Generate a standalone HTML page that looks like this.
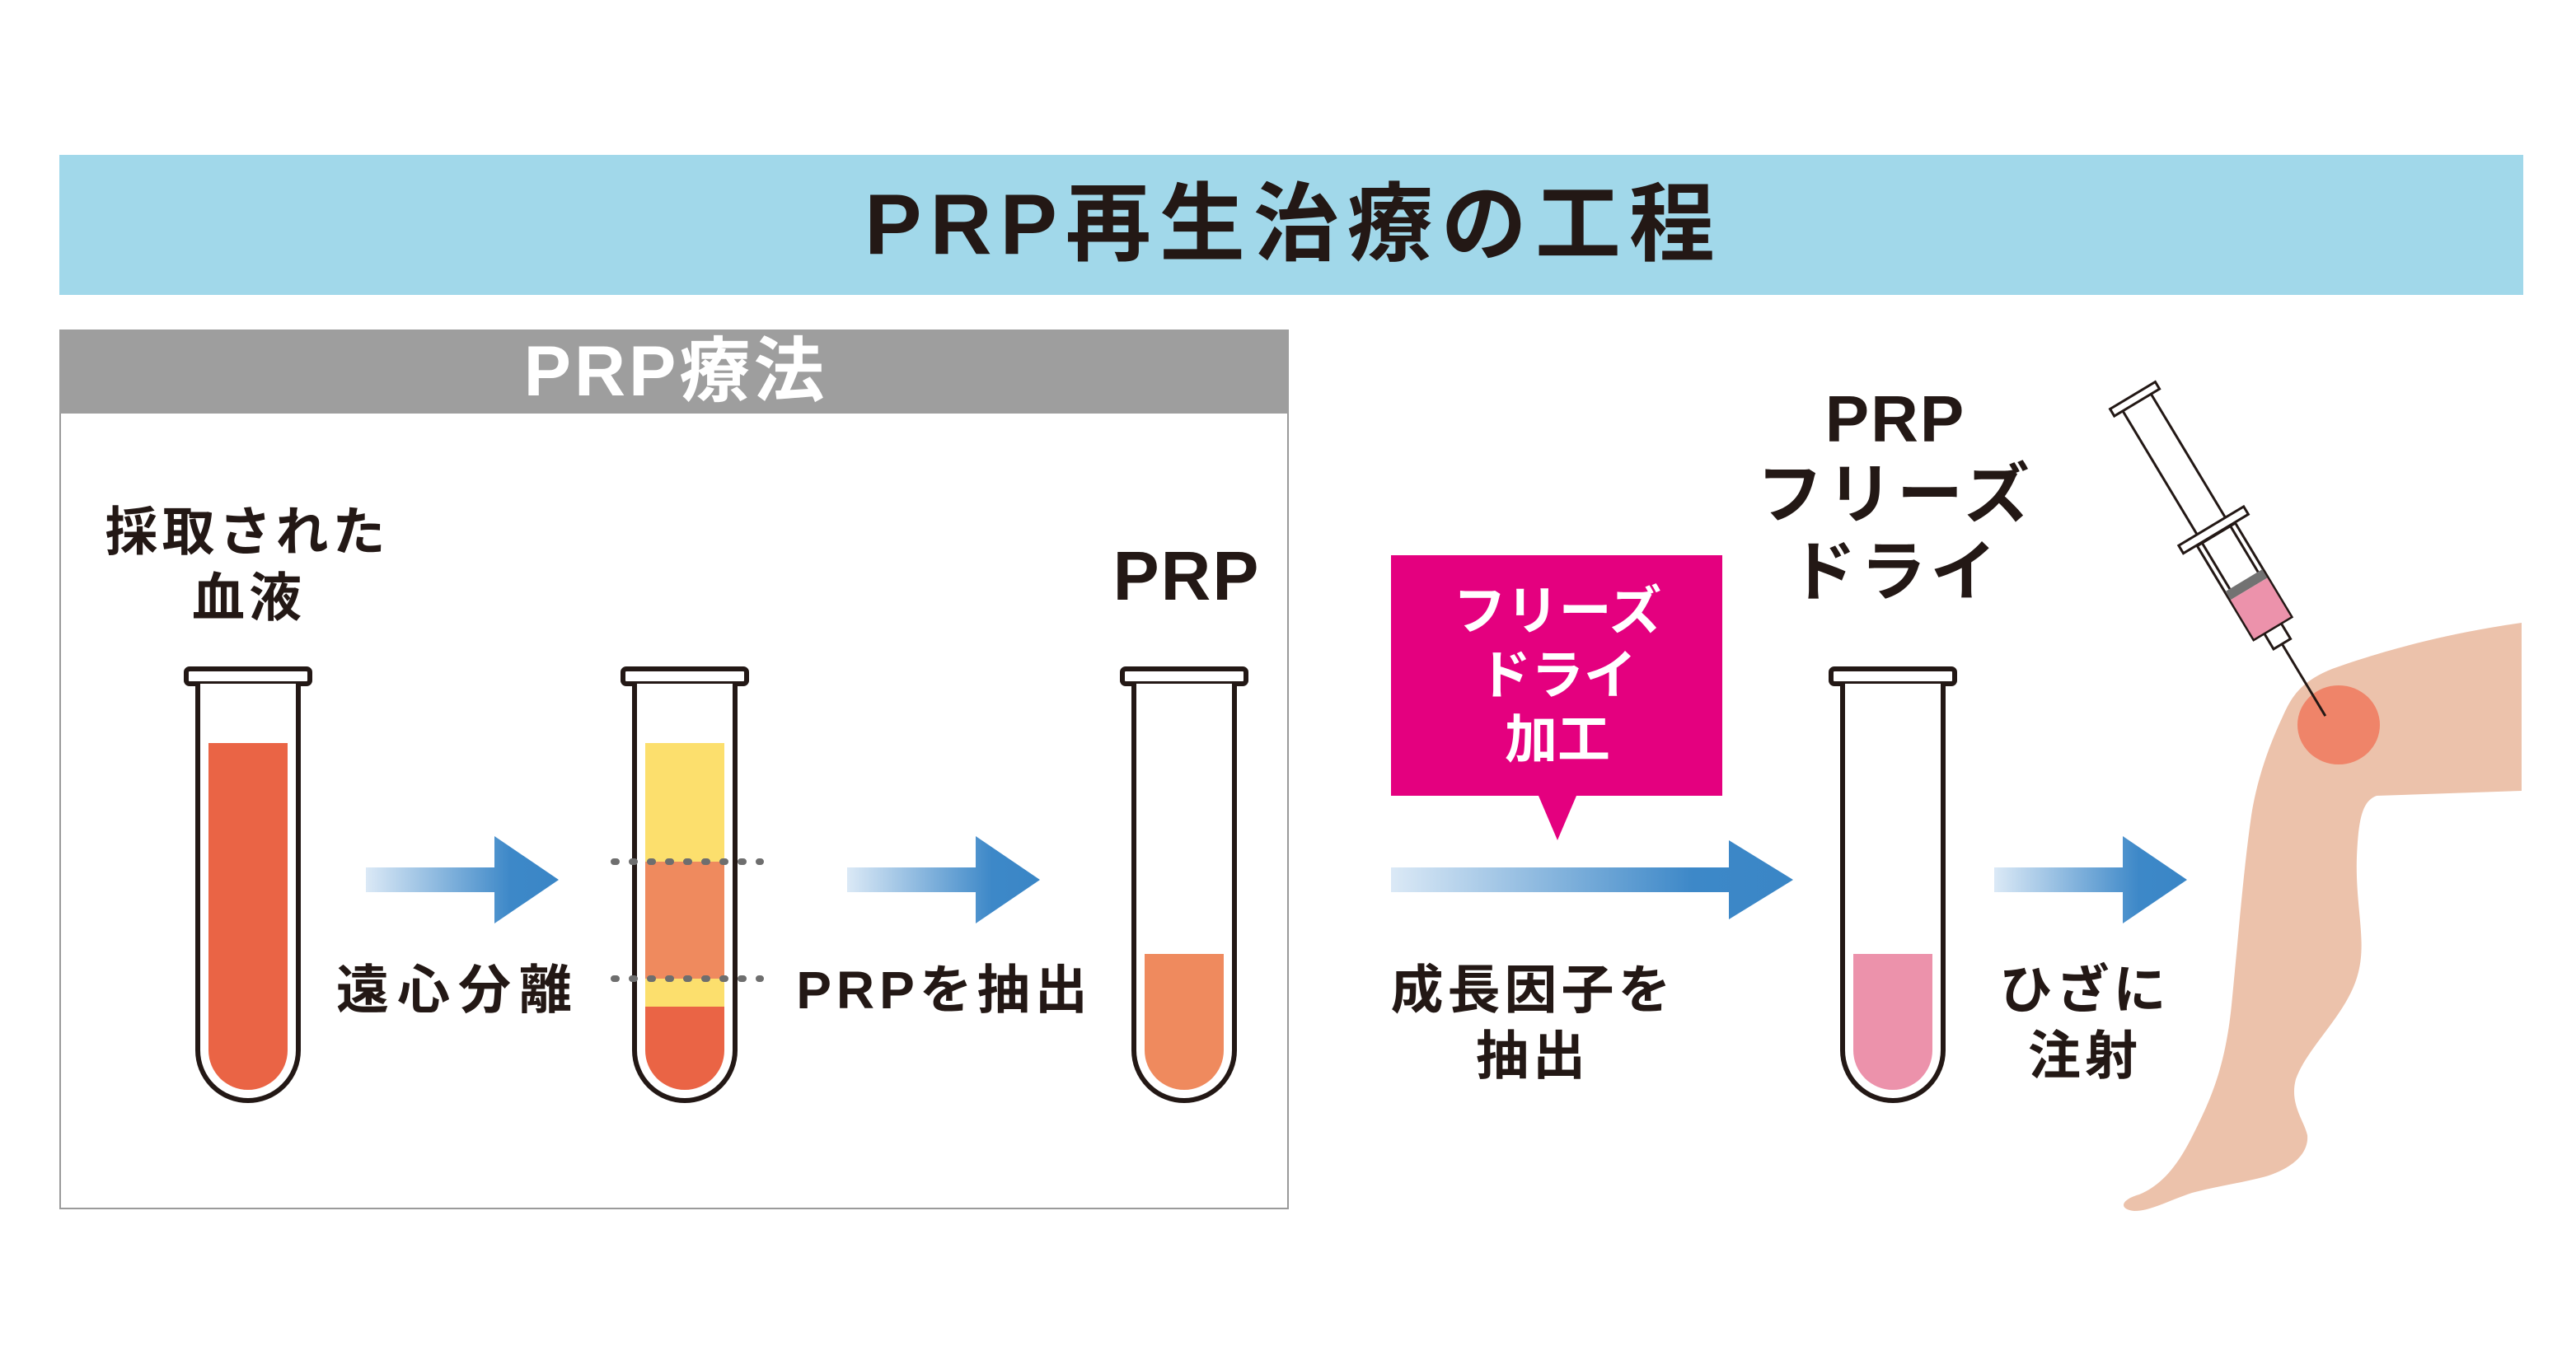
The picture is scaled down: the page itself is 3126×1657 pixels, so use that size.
<!DOCTYPE html>
<html><head><meta charset="utf-8"><style>
html,body{margin:0;padding:0;background:#fff}
svg{display:block}
text{font-family:"Liberation Sans","Noto Sans CJK JP",sans-serif;font-weight:bold}
</style></head><body>
<svg width="3126" height="1657" viewBox="0 0 3126 1657" xmlns="http://www.w3.org/2000/svg">
<defs>
<linearGradient id="ag" x1="0" x2="1" y1="0" y2="0">
<stop offset="0" stop-color="#dbe9f6"/><stop offset="0.75" stop-color="#3d88c8"/><stop offset="1" stop-color="#3a86c6"/>
</linearGradient>
<g id="tube">
<rect x="-75" y="812" width="150" height="18" rx="4" fill="#fff" stroke="#231815" stroke-width="6"/>
<path d="M-61 830 V1275 A61 61 0 0 0 61 1275 V830" fill="#fff" stroke="#231815" stroke-width="6"/>
</g>
</defs>
<rect x="72" y="188" width="2990" height="170" fill="#a1d8ea"/>
<text x="1570" y="308" font-size="104" letter-spacing="10" text-anchor="middle" fill="#231815">PRP再生治療の工程</text>

<rect x="73" y="401" width="1490" height="1066" fill="#fff" stroke="#9a9a9a" stroke-width="2"/>
<rect x="72" y="400" width="1492" height="102" fill="#9e9e9e"/>
<text x="820" y="480" font-size="86" letter-spacing="4" text-anchor="middle" fill="#fff">PRP療法</text>

<g transform="translate(301,0)"><use href="#tube"/>
<path d="M-48 902 V1275 A48 48 0 0 0 48 1275 V902Z" fill="#ea6445"/></g>
<g transform="translate(831,0)"><use href="#tube"/>
<rect x="-48" y="902" width="96" height="144" fill="#fcdf6d"/>
<rect x="-48" y="1046" width="96" height="142" fill="#ef8a5e"/>
<rect x="-48" y="1188" width="96" height="34" fill="#fcdf6d"/>
<path d="M-48 1222 V1275 A48 48 0 0 0 48 1275 V1222Z" fill="#ea6445"/>
<line x1="-86" y1="1046" x2="92" y2="1046" stroke="#6e6e6e" stroke-width="8" stroke-linecap="round" stroke-dasharray="3 19"/>
<line x1="-86" y1="1188" x2="92" y2="1188" stroke="#6e6e6e" stroke-width="8" stroke-linecap="round" stroke-dasharray="3 19"/>
</g>
<g transform="translate(1437,0)"><use href="#tube"/>
<path d="M-48 1158 V1275 A48 48 0 0 0 48 1275 V1158Z" fill="#ef8a5e"/></g>
<g transform="translate(2297,0)"><use href="#tube"/>
<path d="M-48 1158 V1275 A48 48 0 0 0 48 1275 V1158Z" fill="#ec92ab"/></g>

<g fill="url(#ag)">
<path d="M444 1053 H600 V1015 L678 1068 L600 1121 V1083 H444Z"/>
<path d="M1028 1053 H1184 V1015 L1262 1068 L1184 1121 V1083 H1028Z"/>
<path d="M1688 1053 H2098 V1020 L2176 1068 L2098 1116 V1083 H1688Z"/>
<path d="M2420 1053 H2576 V1015 L2654 1068 L2576 1121 V1083 H2420Z"/>
</g>

<path d="M1688 674 H2090 V966 H1913 L1890 1020 L1867 966 H1688Z" fill="#e4007f"/>
<text font-size="64" fill="#fff" text-anchor="middle"><tspan x="1890" y="764">フリーズ</tspan><tspan x="1890" y="842">ドライ</tspan><tspan x="1890" y="920">加工</tspan></text>

<g fill="#231815" font-size="64" text-anchor="middle" letter-spacing="5">
<text x="300" y="668">採取された</text>
<text x="302" y="748">血液</text>
<text x="556" y="1224" letter-spacing="10">遠心分離</text>
<text x="1146" y="1224" letter-spacing="6">PRPを抽出</text>
<text x="1440" y="728" font-size="84" letter-spacing="2">PRP</text>
<text x="1860" y="1224">成長因子を</text>
<text x="1860" y="1304">抽出</text>
<text x="2530" y="1224">ひざに</text>
<text x="2530" y="1304">注射</text>
<text x="2300" y="536" font-size="80" letter-spacing="2">PRP</text>
<text x="2300" y="628" font-size="80">フリーズ</text>
<text x="2300" y="722" font-size="80">ドライ</text>
</g>

<!-- leg -->
<path d="M3060 756 L3060 960 L2884 966 C2868 972 2862 990 2860 1040 C2858 1100 2872 1140 2862 1180 C2850 1230 2800 1270 2786 1310 C2778 1340 2796 1360 2800 1378 C2802 1400 2782 1418 2750 1428 C2720 1436 2690 1440 2660 1448 C2630 1458 2610 1470 2590 1470 C2570 1468 2574 1456 2596 1450 C2620 1440 2640 1420 2660 1380 C2680 1340 2700 1300 2708 1220 C2716 1140 2722 1060 2732 990 C2740 940 2756 900 2770 870 C2780 848 2790 828 2830 812 C2880 794 2960 770 3060 756 Z" fill="#ecc2ab"/>
<ellipse cx="2838" cy="880" rx="50" ry="48" fill="#ef8469"/>

<g transform="translate(2588,480) rotate(-31)" stroke="#231815" stroke-width="3" fill="#fff">
<line x1="0" y1="352" x2="0" y2="454"/>
<rect x="-12" y="330" width="24" height="22"/>
<rect x="-27" y="197" width="54" height="133"/>
<rect x="-26" y="262" width="52" height="12" fill="#727272" stroke="none"/>
<rect x="-26" y="274" width="52" height="55" fill="#ec92ab" stroke="none"/>
<line x1="-20" y1="10" x2="-20" y2="262"/>
<line x1="20" y1="10" x2="20" y2="262"/>
<rect x="-46" y="185" width="92" height="11"/>
<rect x="-32" y="0" width="64" height="10"/>
</g>
</svg>
</body></html>
